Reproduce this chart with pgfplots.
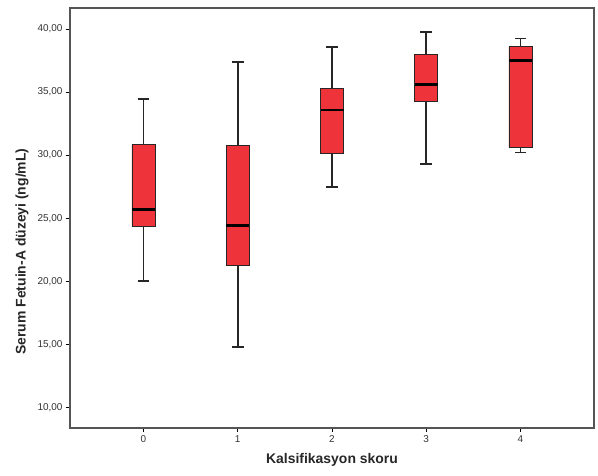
\documentclass[border=0pt]{standalone}
\usepackage{pgfplots}
\pgfplotsset{compat=1.18}
\usepackage{pgfplotstable}
\usepackage{fontspec}
\setmainfont{Liberation Sans}

\definecolor{boxred}{RGB}{238,51,58}
\definecolor{framegray}{RGB}{85,85,85}

% lower whisker, Q1, median, Q3, upper whisker for each score
\pgfplotstableread{
x lw lq med uq uw
0 20.04 24.32 25.67 30.86 34.43
1 14.81 21.23 24.43 30.78 37.38
2 27.50 30.11 33.58 35.30 38.55
3 29.27 34.24 35.58 37.99 39.76
4 30.22 30.59 37.52 38.63 39.26
}\boxdata

\pgfplotsset{
  frame/.style={
    at={(70bp,48bp)}, anchor=south west,
    scale only axis, width=524bp, height=420bp,
    xmin=-0.78, xmax=4.78, ymin=8.36, ymax=41.67,
  },
}

\begin{document}
\begin{tikzpicture}
\path (0,0) rectangle (598bp,476bp);
\begin{axis}[
  frame,
  ybar stacked, bar width=0.245,
  xtick={0,1,2,3,4}, ytick={10,15,20,25,30,35,40},
  xtick pos=bottom, ytick pos=left, tick align=outside,
  major tick length=4bp,
  axis line style={framegray, line width=1.3pt},
  tick style={black, line width=0.8pt},
  ticklabel style={font=\fontsize{10}{12}\selectfont, text=black!80},
  /pgf/number format/assume math mode=true,
  yticklabel style={/pgf/number format/.cd, fixed, fixed zerofill, precision=2, use comma},
  xlabel={Kalsifikasyon skoru},
  ylabel={Serum Fetuin-A düzeyi (ng/mL)},
  label style={font=\fontsize{14}{16}\selectfont\bfseries, text=black!85},
  x label style={at={(axis description cs:0.5,0)}, anchor=center, yshift=-32bp},
  y label style={at={(axis description cs:-0.0916,0.42)}, anchor=center},
]
% invisible base up to Q1, carrying the lower whisker
\addplot[draw=none, fill=none, line width=1.7pt,
  error bars/.cd, y dir=minus, y explicit, error mark=none,
  error bar style={draw=black!85, line width=1.7pt, solid}]
  table[x=x, y=lq, y error expr=\thisrow{lq}-\thisrow{lw}] {\boxdata};
% box Q1..Q3, carrying the upper whisker
\addplot[draw=black!85, line width=0.9pt, fill=boxred,
  error bars/.cd, y dir=plus, y explicit, error mark=none,
  error bar style={draw=black!85, line width=1.7pt, solid}]
  table[x=x, y expr=\thisrow{uq}-\thisrow{lq}, y error expr=\thisrow{uw}-\thisrow{uq}] {\boxdata};
\end{axis}
\begin{axis}[frame, hide axis]
% whisker caps
\addplot[only marks, mark=-, mark size=5.8bp, mark options={black!85, line width=1.7pt}]
  table[x=x, y=uw] {\boxdata};
\addplot[only marks, mark=-, mark size=5.8bp, mark options={black!85, line width=1.7pt}]
  table[x=x, y=lw] {\boxdata};
% medians
\addplot[only marks, mark=-, mark size=11.5bp, mark options={black, line width=2.7pt}]
  table[x=x, y=med] {\boxdata};
\end{axis}
\end{tikzpicture}
\end{document}
